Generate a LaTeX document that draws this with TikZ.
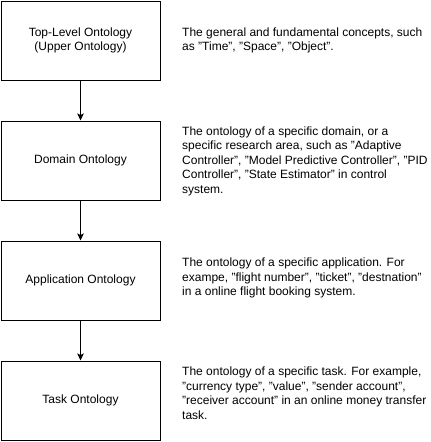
\documentclass[tikz,border=0pt]{standalone}
\usepackage{fontspec}
\setmainfont{Liberation Sans}
\usetikzlibrary{arrows.meta,positioning}
\begin{document}
\begin{tikzpicture}[x=1pt, y=-1pt, every node/.style={font=\fontsize{12}{14.5}\selectfont},
    levelbox/.style={draw, line width=1pt, minimum width=159pt, minimum height=79pt, align=center, inner sep=0pt},
    desc/.style={align=left, anchor=west, inner sep=0pt},
    arr/.style={-{Stealth[length=7pt, width=6.5pt, inset=1.5pt]}, line width=1pt}]

\useasboundingbox (0,0) rectangle (431,442);

% Ontology levels
\node[levelbox] (top) at (80.5,40.5) {Top-Level Ontology\\(Upper Ontology)};
\node[levelbox] (domain) at (80.5,160.5) {Domain Ontology};
\node[levelbox] (app) at (80.5,280.5) {Application Ontology};
\node[levelbox] (task) at (80.5,400.5) {Task Ontology};

% Descriptions
\node[desc] (topdesc) at (182,40.5) {The general and fundamental concepts, such\\as "Time", "Space", "Object".};
\node[desc] (domaindesc) at (182,161) {The ontology of a specific domain, or a\\specific research area, such as "Adaptive\\Controller", "Model Predictive Controller", "PID\\Controller", "State Estimator" in control\\system.};
\node[desc] (appdesc) at (182,278) {The ontology of a specific application. For\\exampe, "flight number", "ticket", "destnation"\\in a online flight booking system.};
\node[desc] (taskdesc) at (182,393) {The ontology of a specific task. For example,\\"currency type", "value", "sender account",\\"receiver account" in an online money transfer\\task.};

% Connecting arrows
\draw[arr] (top) -- (domain);
\draw[arr] (domain) -- (app);
\draw[arr] (app) -- (task);

\end{tikzpicture}
\end{document}
